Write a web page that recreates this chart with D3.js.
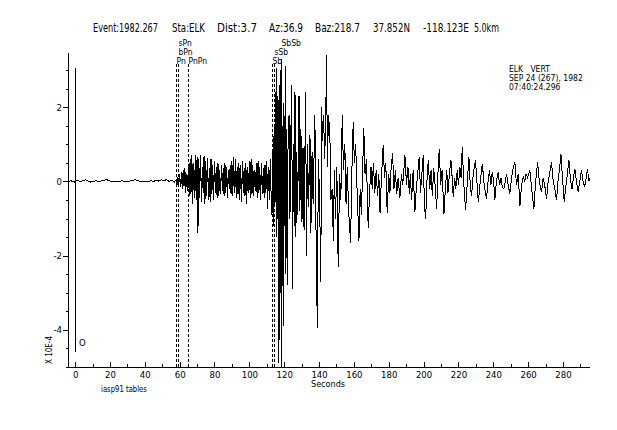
<!DOCTYPE html>
<html><head><meta charset="utf-8">
<script src="https://cdn.jsdelivr.net/npm/d3@7"></script>
<style>
html,body{margin:0;padding:0;background:#fff;}
svg{display:block;background:#fff;}
text{font-family:"DejaVu Sans Condensed","Liberation Sans Narrow","Roboto Condensed","DejaVu Sans",sans-serif;fill:#000;}
</style></head><body>
<svg id="c" width="617" height="430"></svg>
<script>
// ---------------- data ----------------
const titleParts = ["Event:1982.267","Sta:ELK","Dist:3.7","Az:36.9","Baz:218.7","37.852N","-118.123E","5.0km"];
const cornerLines = ["ELK   VERT","SEP 24 (267), 1982","07:40:24.296"];
const xTickValues = [0,20,40,60,80,100,120,140,160,180,200,220,240,260,280];
const xTickLabels = ["0","20","40","60","80","100","120","140","160","180","200","220","240","260","280"];
const yTickValues = [-4,-2,0,2];
const yTickLabels = ["-4","-2","0","2"];
const xDomain = [-3.5, 295.5];
const yDomain = [-5.0, 3.46];
const phaseNames = ["Pn","bPn","sPn","PnPn","Sb","sSb","SbSb"];
const phaseTimes = [58.0, 58.9, 59.1, 65.0, 113.2, 114.2, 118.1];
const phaseRows  = [2, 1, 0, 2, 2, 1, 0];
const originTime = 0;
const xLabel = "Seconds";
const yLabel = "X 10E-4";
const footNote = "iasp91 tables";

// pre-event noise [seconds, amplitude]
const noiseTrace = [[-3.5,0.0],[-2.5,0.02],[-1.5,0.0],[-0.5,-0.02],[0.5,0.01],[1.5,0.03],[3,0.0],[4.5,0.02],[6,0.04],[7.5,0.01],[9,-0.02],[10.5,0.0],[12,0.02],[13.5,-0.01],[15,0.01],[16.5,0.03],[18,0.05],[19.5,0.02],[21,-0.01],[22.5,0.0],[24,0.01],[25.5,-0.01],[27,0.02],[28.5,0.0],[30,-0.01],[31.5,0.01],[33,0.03],[34.5,0.05],[36,0.02],[37.5,-0.01],[39,0.01],[40.5,0.0],[42,-0.01],[43.5,0.02],[45,0.0],[46.5,0.03],[48,0.01],[49.5,0.04],[51,0.02],[52.5,0.05],[54,0.0],[55.5,0.03],[57,-0.02],[57.8,0.04]];

// P-wave coda, sampled every 0.5 s from 58 s
const pStart = 58, pStep = 0.5;
const pAmps = [0.05,-0.1,0.12,-0.08,0.2,-0.15,0.25,-0.2,0.3,-0.12,0.35,-0.3,0.2,-0.25,0.45,-0.4,0.6,-0.35,0.7,-0.6,
0.5,-0.45,0.72,-0.5,0.65,-1.38,0.6,-0.45,0.7,-0.55,0.4,-0.3,0.68,-0.6,0.55,-0.4,0.62,-0.5,0.35,-0.55,
0.6,-0.35,0.45,-0.5,0.55,-0.3,0.4,-0.45,0.5,-0.4,0.3,-0.35,0.45,-0.25,0.35,-0.4,0.5,-0.3,0.4,-0.45,
0.3,-0.2,0.45,-0.35,0.55,-0.4,0.65,-0.3,0.6,-0.45,0.4,-0.35,0.5,-0.5,0.45,-0.55,0.55,-0.3,0.35,-0.4,
0.5,-0.6,0.4,-0.3,0.55,-0.45,0.6,-0.35,0.45,-0.4,0.3,-0.25,0.5,-0.45,0.55,-0.3,0.4,-0.5,0.5,-0.35,
0.35,-0.45,0.45,-0.3,0.55,-0.75,0.4,-0.5,0.6,-0.4];

// S-wave arrivals [seconds, amplitude]
const sTrace = [[113.0,-0.9],[113.4,0.8],[113.8,-1.2],[114.2,1.5],[114.6,-0.6],[115.0,2.4],[115.4,-1.5],[115.8,3.05],[116.2,-1.0],[116.6,2.2],[117.0,-4.9],[117.4,2.6],[117.8,-3.0],[118.2,3.3],[118.6,-5.0],[119.0,1.5],[119.4,-3.9],[119.8,2.1],[120.2,-1.2],[120.6,3.1],[121.0,-2.5],[121.4,1.4],[121.8,-2.8],[122.2,0.9],[122.8,1.8],[123.3,-1.0],[123.8,1.2],[124.3,2.6],[124.8,-2.9],[125.3,1.0],[125.7,-1.2],[126.2,2.4],[126.7,-1.5],[127.2,0.8],[127.7,-0.9],[128.5,2.3],[129.0,-0.8],[129.6,1.4],[130.2,-1.1],[130.8,0.9],[131.4,-1.3],[132.3,2.4],[132.8,-2.0],[133.4,1.0],[134.0,-0.7],[134.8,1.24],[135.3,-1.4],[136.0,0.8],[136.6,-0.6],[137.6,1.8],[138.2,-1.1],[139.0,-3.95],[139.6,0.6],[140.3,-0.4],[141.0,-2.7],[141.5,2.0],[142.0,1.1],[142.6,1.8],[143.2,0.6],[143.8,1.5],[144.3,3.4],[144.8,0.4],[145.4,1.8],[146.2,1.3],[146.8,-0.5],[147.5,-0.2],[148.2,-1.6],[148.8,0.3],[149.4,-1.0]];

// surface-wave coda [seconds, amplitude]
const codaTrace = [[150.2,0.4],[151.0,-2.3],[151.8,0.2],[152.5,-0.5],[153.3,1.8],[154.0,0.3],[154.8,1.0],[155.5,-0.6],[156.2,0.4],[157.0,-0.8],[158.1,-1.65],[158.8,0.2],[159.6,1.6],[160.3,0.5],[161.0,1.0],[162.0,-0.5],[162.9,-1.6],[163.6,-0.2],[164.3,-0.9],[165.0,0.3],[165.7,1.43],[166.4,0.2],[167.2,0.6],[168.2,-1.25],[169.0,-0.3],[169.8,0.4],[170.5,-0.2],[171.2,0.5],[172.0,-0.3],[172.8,0.3],[173.6,-0.4],[174.3,0.2],[175.0,-0.85],[175.8,0.1],[176.8,0.97],[177.6,0.1],[178.3,0.5],[179.1,-0.85],[180.0,0.2],[180.7,-0.3],[181.4,0.4],[182.2,0.76],[183.0,-0.2],[183.8,0.3],[184.6,-0.35],[185.4,0.1],[186.4,-0.45],[187.3,0.2],[188.0,-0.1],[189.3,0.7],[190.2,-0.1],[191.0,0.4],[191.8,-0.33],[192.4,0.2],[193.1,-0.51],[194.0,0.3],[195.0,-0.83],[195.8,-0.2],[196.6,0.2],[197.5,0.66],[198.2,-0.3],[199.0,0.2],[199.8,0.7],[200.5,-0.69],[201.2,-1.0],[202.0,0.1],[202.7,0.57],[203.5,-0.2],[204.3,0.3],[205.0,-0.4],[205.8,0.35],[206.6,-0.1],[207.5,-0.74],[208.2,0.2],[209.0,0.88],[209.8,-0.1],[210.6,0.3],[211.7,-0.87],[212.5,-0.2],[213.3,0.3],[214.0,-0.3],[214.8,0.2],[215.7,0.57],[216.4,0.1],[217.0,-0.42],[217.8,0.1],[218.5,-0.2],[219.3,0.3],[220.0,-0.1],[220.8,0.4],[221.5,0.1],[222.2,0.93],[223.0,0.0],[224.1,-0.78],[225.0,-0.1],[226.0,0.66],[226.8,-0.1],[227.5,-0.4],[228.5,0.2],[229.8,0.57],[230.6,0.0],[231.4,-0.56],[232.5,0.0],[233.7,0.48],[234.8,-0.1],[236.1,-0.47],[237.0,0.0],[237.8,0.3],[238.6,-0.1],[239.4,0.25],[240.2,0.0],[240.9,-0.5],[241.8,0.0],[242.8,0.25],[243.6,-0.1],[244.4,0.1],[245.2,-0.15],[246.1,-0.2],[246.9,0.0],[247.6,0.21],[248.5,-0.1],[249.5,-0.33],[250.5,0.1],[251.5,0.4],[252.4,0.52],[253.3,-0.1],[254.3,0.2],[255.3,-0.65],[256.2,-0.1],[257.2,0.12],[258.0,0.0],[258.8,0.2],[259.7,0.1],[261.0,0.3],[262.0,-0.2],[263.3,-0.74],[264.3,0.0],[265.4,0.52],[266.4,0.0],[267.7,-0.29],[268.6,0.1],[269.5,-0.1],[270.6,-0.47],[271.5,0.0],[272.3,0.2],[273.4,0.52],[274.4,0.0],[275.3,-0.2],[276.3,-0.51],[277.3,0.1],[278.0,0.3],[278.8,0.75],[279.7,0.1],[280.7,-0.56],[281.7,-0.1],[282.5,0.2],[283.4,0.57],[284.4,0.0],[285.2,-0.2],[286.0,0.1],[286.8,0.34],[287.7,0.0],[288.7,-0.29],[289.6,0.0],[290.6,0.3],[291.5,0.0],[292.5,-0.15],[293.3,0.1],[294.1,0.34],[294.8,0.0],[295.4,0.1]];

// ---------------- layout ----------------
const plotL = 69, plotR = 590, plotT = 53, plotB = 367;
const titleX = [93,172,217,269,315,373,423,474];
const titleW = [65,33,40,34,45,37,46,25];

const svg = d3.select("#c");
const x = d3.scaleLinear().domain(xDomain).range([plotL, plotR]);
const y = d3.scaleLinear().domain(yDomain).range([plotB, plotT]);

// title: each token squeezed horizontally to its width in the reference
svg.append("g").selectAll("text").data(titleParts).join("text")
  .attr("font-size",12)
  .text(d=>d)
  .each(function(d,i){
    const len = this.getComputedTextLength();
    const sx = titleW[i]/len;
    d3.select(this).attr("transform",`translate(${titleX[i]},32) scale(${sx},1)`);
  });

// corner info
svg.append("g").selectAll("text").data(cornerLines).join("text")
  .attr("x",509).attr("y",(d,i)=>72+i*9)
  .attr("font-size",8.5).attr("xml:space","preserve")
  .style("white-space","pre")
  .text(d=>d);

// trace
const pTrace = pAmps.map((v,i)=>[pStart+i*pStep, v]);
const trace = noiseTrace.concat(pTrace, sTrace, codaTrace);
const line = d3.line().x(d=>x(d[0])).y(d=>y(d[1]));
svg.append("path").datum(trace).attr("d",line)
  .attr("fill","none").attr("stroke","#000").attr("stroke-width",1)
  .attr("shape-rendering","crispEdges");

// x axis (ticks point up)
const gx = svg.append("g").attr("transform",`translate(0,${plotB})`);
gx.call(d3.axisBottom(x).tickValues(x.ticks(30)).tickSize(-3).tickSizeOuter(0).tickFormat(""));
const gx2 = svg.append("g").attr("transform",`translate(0,${plotB})`);
gx2.call(d3.axisBottom(x).tickValues(xTickValues).tickSize(-5).tickSizeOuter(0).tickPadding(4)
  .tickFormat((d,i)=>xTickLabels[i]));
gx2.selectAll("text").attr("font-size",9.5).attr("font-family",null);
[gx,gx2].forEach(g=>{g.selectAll("line,path").attr("stroke","#000").attr("shape-rendering","crispEdges");});
gx.select(".domain").attr("d",`M${plotL},0.5H${plotR}`);
gx2.select(".domain").remove();

// y axis (ticks point out)
const gy = svg.append("g").attr("transform",`translate(${plotL},0)`);
gy.call(d3.axisLeft(y).tickValues(y.ticks(17)).tickSize(3).tickSizeOuter(0).tickFormat(""));
const gy2 = svg.append("g").attr("transform",`translate(${plotL},0)`);
gy2.call(d3.axisLeft(y).tickValues(yTickValues).tickSize(6).tickSizeOuter(0).tickPadding(1)
  .tickFormat((d,i)=>yTickLabels[i]));
gy2.selectAll("text").attr("font-size",9.5).attr("font-family",null);
[gy,gy2].forEach(g=>{g.selectAll("line,path").attr("stroke","#000").attr("shape-rendering","crispEdges");});
gy.select(".domain").attr("d",`M-0.5,${plotT}V${plotB}`);
gy2.select(".domain").remove();

// origin marker
svg.append("line").attr("x1",x(originTime)).attr("x2",x(originTime)).attr("y1",68).attr("y2",352)
  .attr("stroke","#000").attr("shape-rendering","crispEdges");
svg.append("text").attr("x",x(originTime)+4).attr("y",346).attr("font-size",9.5).text("O");

// phase markers
const pm = svg.append("g");
phaseNames.forEach((n,i)=>{
  const px = Math.round(x(phaseTimes[i]))+0.5;
  pm.append("line").attr("x1",px).attr("x2",px).attr("y1",64).attr("y2",plotB)
    .attr("stroke","#000").attr("stroke-dasharray","3,2").attr("shape-rendering","crispEdges");
  pm.append("text").attr("x",px).attr("y",46+phaseRows[i]*9).attr("font-size",8.5).text(n);
});

// labels
svg.append("text").attr("x",328).attr("y",387).attr("text-anchor","middle").attr("font-size",9).text(xLabel);
svg.append("text").attr("transform","translate(52,350) rotate(-90)").attr("text-anchor","middle").attr("font-size",8).text(yLabel);
svg.append("text").attr("font-size",9).text(footNote)
  .each(function(){
    const len = this.getComputedTextLength();
    d3.select(this).attr("transform",`translate(101,392) scale(${46/len},1)`);
  });
</script>
</body></html>
